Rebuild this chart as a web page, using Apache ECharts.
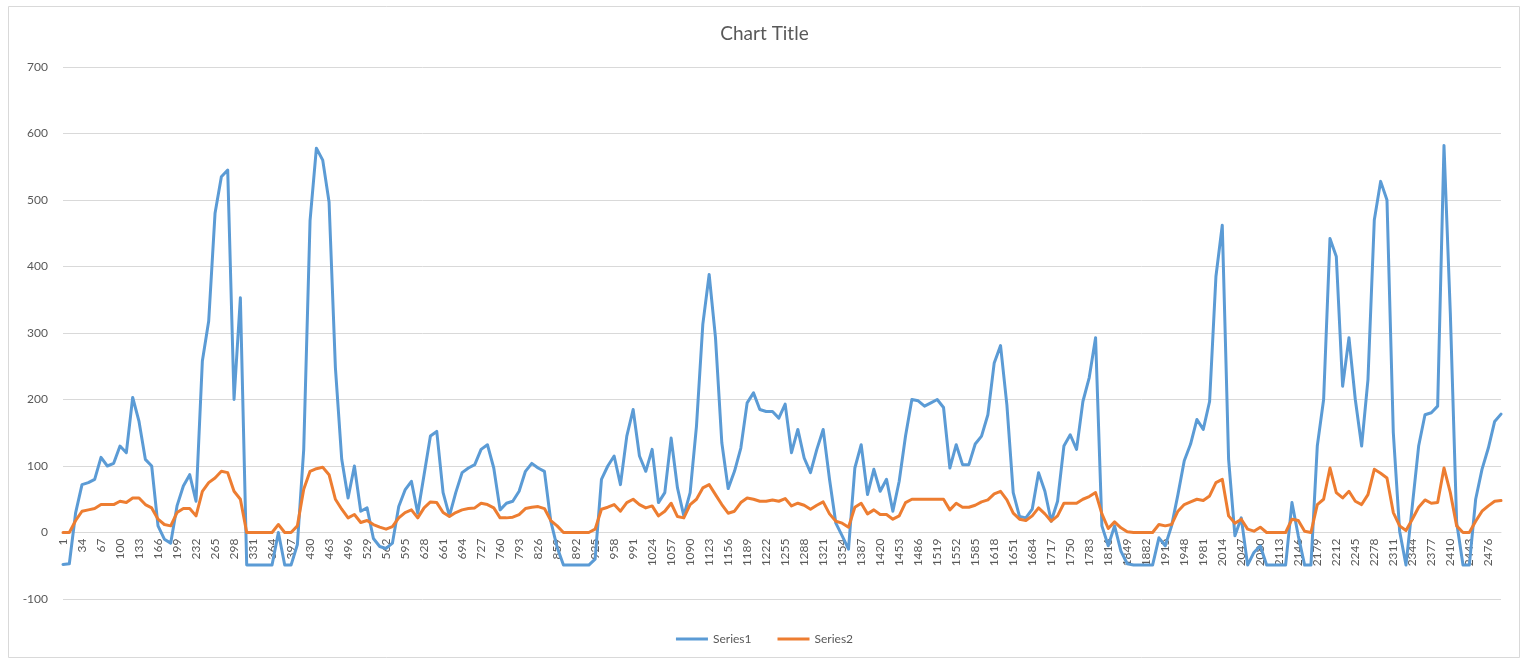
<!DOCTYPE html>
<html>
<head>
<meta charset="utf-8">
<script src="https://cdn.jsdelivr.net/npm/echarts@6/dist/echarts.min.js"></script>
<style>
html,body{margin:0;padding:0;background:#fff;}
#chart{width:1529px;height:667px;}
</style>
</head>
<body>
<div id="chart"></div>
<script>
// Categories sampled every 11 rows: 1, 12, 23, ... (labels shown every 33)
const categoryStart = 1;
const categoryStep = 11;
const categoryCount = 228;
const categories = [];
for (let i = 0; i < categoryCount; i++) categories.push(String(categoryStart + categoryStep * i));

const series1 = [
 -48,-47,30,72,75,80,113,100,104,130,120,203,167,110,100,10,-10,-16,40,
 70,87,47,258,318,480,535,545,200,353,-49,-49,-49,-49,-49,0,-49,-49,-18,
 125,469,578,560,497,248,110,52,100,32,37,-9,-21,-24,-16,39,64,77,29,
 87,145,152,60,25,60,90,97,102,125,132,97,34,44,47,62,92,104,97,
 92,17,-22,-49,-49,-49,-49,-49,-40,80,100,115,72,145,185,115,92,125,45,
 60,142,67,25,60,160,313,388,293,135,66,92,127,195,210,185,182,182,172,
 193,120,155,112,90,125,155,80,14,-5,-25,97,132,57,95,62,80,32,77,
 145,200,198,190,195,200,188,97,132,102,102,133,145,177,255,281,192,60,24,
 22,35,90,62,17,47,130,147,125,197,233,293,10,-20,10,-28,-47,-49,-49,
 -49,-49,-8,-20,10,57,108,133,170,155,197,385,462,110,-5,22,-49,-30,-20,
 -49,-49,-49,-49,45,-5,-49,-49,130,200,442,415,220,293,200,130,230,470,528,
 500,150,2,-49,40,130,177,180,190,582,330,15,-49,-49,50,95,127,167,178
];
const series2 = [
 0,0,18,32,34,36,42,42,42,47,45,52,52,42,37,20,12,10,30,
 36,36,25,62,75,82,92,90,62,50,0,0,0,0,0,12,0,0,10,
 65,92,96,98,87,50,35,22,27,15,18,12,8,5,9,22,30,34,22,
 37,46,45,30,24,30,34,36,37,44,42,37,22,22,23,27,36,38,39,
 36,18,10,0,0,0,0,0,5,35,38,42,32,45,50,42,37,40,25,
 32,44,24,22,42,50,67,72,57,42,29,32,45,52,50,47,47,49,47,
 51,40,44,41,35,41,46,28,17,14,8,38,44,28,34,27,27,20,25,
 45,50,50,50,50,50,50,34,44,38,38,41,46,49,58,62,49,29,20,
 18,25,37,28,17,25,44,44,44,50,54,60,28,6,16,7,1,0,0,
 0,0,12,10,12,32,42,46,50,48,55,75,80,25,14,20,5,2,8,
 0,0,0,0,20,18,2,0,42,50,97,60,52,62,47,42,57,95,89,
 82,30,10,3,20,38,49,44,45,97,60,10,0,0,17,32,40,47,48
];
const seriesNames = ['Series1', 'Series2'];
const seriesColors = ['#5B9BD5', '#ED7D31'];
const yMin = -100, yMax = 700, yStep = 100;

const chart = echarts.init(document.getElementById('chart'), null, {renderer: 'canvas'});
const font = 'Lato, "Open Sans", sans-serif';
// plot height 532 px for 800 units -> zero line sits 66.5 px above the bottom
const zeroOffset = -532 * (0 - yMin) / (yMax - yMin);
chart.setOption({
  animation: false,
  backgroundColor: '#ffffff',
  textStyle: {fontFamily: font},
  title: {
    text: 'Chart Title', left: 'center', top: 19,
    textStyle: {fontSize: 19, fontWeight: 'normal', color: '#595959', fontFamily: font}
  },
  legend: {
    data: seriesNames.map((n, i) => ({name: n, icon: 'rect', itemStyle: {color: seriesColors[i]}})),
    top: 628, left: 'center',
    itemWidth: 32, itemHeight: 3, itemGap: 26,
    textStyle: {fontSize: 12, color: '#595959', fontFamily: font}
  },
  grid: {left: 63, right: 28, top: 67, bottom: 68, containLabel: false},
  xAxis: {
    type: 'category', data: categories, boundaryGap: false,
    offset: zeroOffset,
    axisLine: {onZero: false, lineStyle: {color: '#d9d9d9', width: 1}},
    axisTick: {show: false},
    axisLabel: {interval: 2, rotate: 90, margin: 6, fontSize: 12, color: '#595959', fontFamily: font},
    splitLine: {show: false}
  },
  yAxis: {
    type: 'value', min: yMin, max: yMax, interval: yStep,
    axisLine: {show: false}, axisTick: {show: false},
    axisLabel: {margin: 15, fontSize: 12, color: '#595959', fontFamily: font},
    splitLine: {lineStyle: {color: '#d9d9d9', width: 1}}
  },
  series: [
    {name: seriesNames[0], type: 'line', data: series1, symbol: 'none', smooth: false,
     lineStyle: {color: seriesColors[0], width: 3, join: 'round', cap: 'round'}, itemStyle: {color: seriesColors[0]}},
    {name: seriesNames[1], type: 'line', data: series2, symbol: 'none', smooth: false,
     lineStyle: {color: seriesColors[1], width: 3, join: 'round', cap: 'round'}, itemStyle: {color: seriesColors[1]}}
  ],
  graphic: [{
    type: 'rect', silent: true, z: -1,
    shape: {x: 8.5, y: 6.5, width: 1511, height: 651},
    style: {fill: 'none', stroke: '#d9d9d9', lineWidth: 1}
  }]
});
</script>
</body>
</html>
